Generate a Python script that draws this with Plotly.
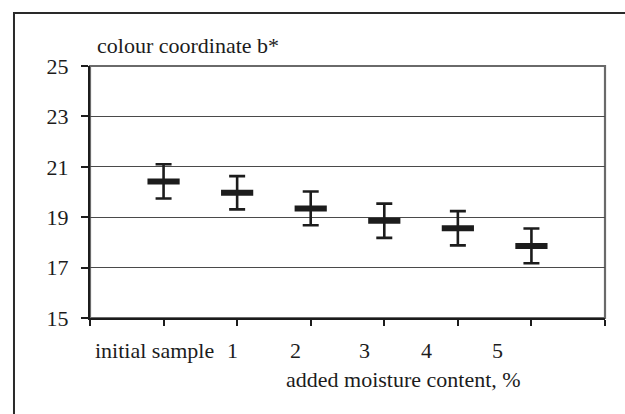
import plotly.graph_objects as go

# Colour coordinate b* against added moisture content
categories = ["initial sample", "1", "2", "3", "4", "5"]
b_star_mean = [20.42, 19.97, 19.35, 18.86, 18.56, 17.86]
b_star_err = [0.68, 0.66, 0.67, 0.68, 0.68, 0.69]

# category slot on the x axis (axis spans 0..7)
x_pos = list(range(1, len(categories) + 1))
# horizontal nudge of each category label, px
label_shift = [-9, -5, -15, -20, -31, -34]

INK = "#1c1c1c"
FONT = dict(family="Liberation Serif, Times New Roman, serif", size=22, color=INK)

fig = go.Figure()

fig.add_trace(go.Scatter(
    x=x_pos,
    y=b_star_mean,
    mode="markers",
    marker=dict(symbol="line-ew", size=23, line=dict(width=6, color=INK)),
    error_y=dict(type="data", array=b_star_err, visible=True,
                 color=INK, thickness=2.6, width=8),
    showlegend=False,
    hoverinfo="x+y",
))

# grey frame of the plot area (top and right edges show)
fig.add_shape(type="rect", xref="paper", yref="paper", x0=0, y0=0, x1=1, y1=1,
              line=dict(color="#6a6a6a", width=2.2), layer="below")

# outer frame around the whole chart
fig.add_shape(type="rect", xref="paper", yref="paper",
              x0=-0.1476, y0=-0.42, x1=1.06, y1=1.2103,
              line=dict(color="#2a2a2a", width=2), layer="above")

annotations = []
for xc, txt, dx in zip(x_pos, categories, label_shift):
    annotations.append(dict(x=xc, y=-0.127, xref="x", yref="paper", text=txt,
                            showarrow=False, xanchor="center", yanchor="middle",
                            xshift=dx, font=FONT))

annotations.append(dict(x=0.6085, y=-0.246, xref="paper", yref="paper",
                        text="added moisture content, %", showarrow=False,
                        xanchor="center", yanchor="middle", font=FONT))
annotations.append(dict(x=0.009, y=1.083, xref="paper", yref="paper",
                        text="colour coordinate b*", showarrow=False,
                        xanchor="left", yanchor="middle", font=FONT))

fig.update_layout(
    width=625, height=414,
    margin=dict(l=90, r=20, t=66, b=96),
    paper_bgcolor="white",
    plot_bgcolor="white",
    font=FONT,
    annotations=annotations,
    xaxis=dict(
        range=[0, 7],
        tickvals=list(range(0, 8)),
        showticklabels=False,
        ticks="outside", ticklen=6, tickwidth=1.5, tickcolor=INK,
        showline=True, linecolor=INK, linewidth=2.4,
        showgrid=False, zeroline=False, fixedrange=True,
    ),
    yaxis=dict(
        range=[15, 25],
        tickvals=[15, 17, 19, 21, 23, 25],
        ticks="outside", ticklen=7, tickwidth=1.5, tickcolor=INK,
        ticklabelstandoff=8,
        showline=True, linecolor=INK, linewidth=2.4,
        showgrid=True, gridcolor="#4a4a4a", gridwidth=1.4,
        zeroline=False, fixedrange=True,
        tickfont=FONT,
    ),
)

fig.write_html("out.html")
